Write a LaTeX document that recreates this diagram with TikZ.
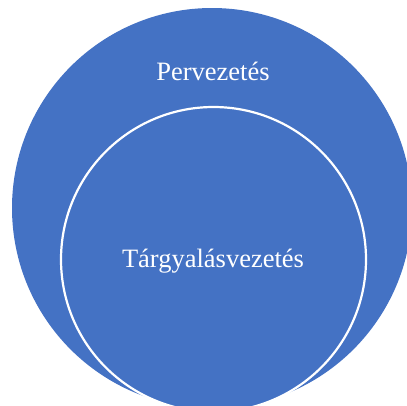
\documentclass[tikz,border=0pt]{standalone}
\usepackage{fontspec}
\setmainfont{Liberation Serif}
\definecolor{vennblue}{HTML}{4472C4}
\tikzstyle{outercircle}=[circle,fill=vennblue,minimum size=400pt,inner sep=0pt]
\tikzstyle{innercircle}=[circle,draw=white,line width=2.2pt,fill=vennblue,minimum size=305pt,inner sep=0pt]
\tikzstyle{venntext}=[text=white,anchor=base,inner sep=0pt,font=\fontsize{26.5}{30}\selectfont]

\begin{document}
\begin{tikzpicture}[x=1pt, y=-1pt]
		\useasboundingbox (0,0) rectangle (407,405);
		\clip (0,0) rectangle (407,405);
		\node [outercircle] (outer)  at (212, 208)  {};
		\node [innercircle] (inner)  at (213.5, 259.5)  {};
		\node [venntext]    (perv)   at (213, 80)  {Pervezetés};
		\node [venntext]    (targy)  at (213, 267) {Tárgyalásvezetés};
	\end{tikzpicture}
\end{document}
